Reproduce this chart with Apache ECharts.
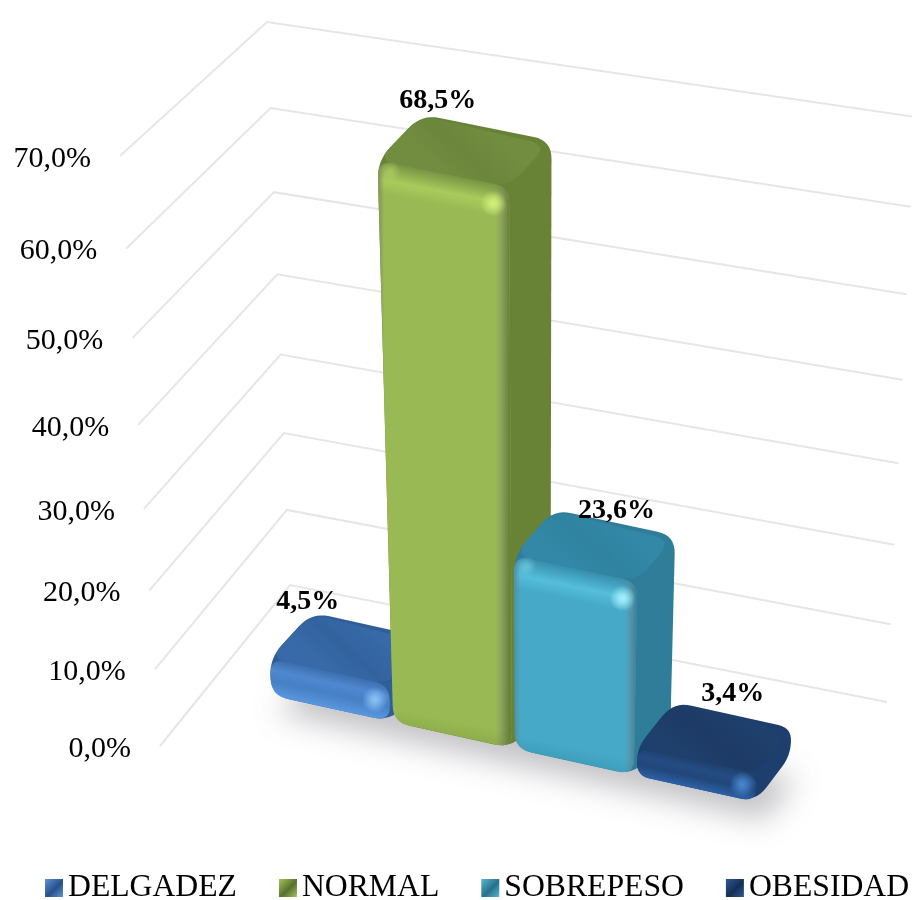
<!DOCTYPE html>
<html>
<head>
<meta charset="utf-8">
<style>html,body{margin:0;padding:0;background:#fff}#chart{width:912px;height:900px}</style>
<script src="https://cdn.jsdelivr.net/npm/echarts@6/dist/echarts.min.js"></script>
</head>
<body>
<div id="chart"></div>
<script>
// Chart data
const categories = ['DELGADEZ', 'NORMAL', 'SOBREPESO', 'OBESIDAD'];
const percentages = [4.5, 68.5, 23.6, 3.4];
const axisTicks = [0, 10, 20, 30, 40, 50, 60, 70];
const axisTickLabels = ['0,0%', '10,0%', '20,0%', '30,0%', '40,0%', '50,0%', '60,0%', '70,0%'];

// Face colours per bar
const palettes = [
  { front: '#4680c5', bright: '#5088cf', top: '#386aa9', topDark: '#33639f', side: '#2f5f99', edge: '#3a6fb0', spot: [140, 196, 250], rim: '#5a97df' },
  { front: '#98b954', bright: '#a9cb5c', top: '#728d40', topDark: '#6c873b', side: '#688236', edge: '#7c9a42', spot: [212, 240, 124], rim: '#8fae4c' },
  { front: '#45a9c7', bright: '#54bedb', top: '#3288a6', topDark: '#2f83a1', side: '#2f7d98', edge: '#3a97b5', spot: [168, 242, 255], rim: '#3f9fbc' },
  { front: '#21467a', bright: '#244c84', top: '#1f3f6c', topDark: '#1d3b66', side: '#1d3f6e', edge: '#1f4476', spot: [74, 138, 210], rim: '#2c61a6' }
];

// Offset of each value label from the back-centre of its bar's top
const labelOffsets = [[-63, -24], [-49, -27], [2, -12], [0, -21]];

// Floor layout of the bars; the cartesian grid below supplies the scales
const gridLeft = 270, gridBaseY = 695, pxPerPercent = 8.2, bandWidth = 121.75;
const floorSlope = 0.22, depthY = -46, depthXNear = 42, depthXFalloff = 0.015;
const convergeX = 540, convergeK = 1.9e-4;
const barInset = 0.012;

// Corners of the back wall and the side wall: [bottom near, bottom far, top far, top near]
const backWall = [[290, 585], [887, 702], [915, 117], [267, 22]];
const sideWall = [[290, 585], [160, 746], [120, 156], [267, 22]];

function squareToQuad(q) {
  const [[x0, y0], [x1, y1], [x2, y2], [x3, y3]] = q;
  const dx1 = x1 - x2, dx2 = x3 - x2, sx = x0 - x1 + x2 - x3;
  const dy1 = y1 - y2, dy2 = y3 - y2, sy = y0 - y1 + y2 - y3;
  const det = dx1 * dy2 - dx2 * dy1;
  const g = (sx * dy2 - dx2 * sy) / det, h = (dx1 * sy - sx * dy1) / det;
  const a = x1 - x0 + g * x1, b = x3 - x0 + h * x3;
  const d = y1 - y0 + g * y1, e = y3 - y0 + h * y3;
  return (u, v) => {
    const k = g * u + h * v + 1;
    return [(a * u + b * v + x0) / k, (d * u + e * v + y0) / k];
  };
}
const backWallAt = squareToQuad(backWall);
const sideWallAt = squareToQuad(sideWall);

// Oblique view of a grid pixel (px, py) pushed back by depth w
function view(px, py, w) {
  const lift = gridBaseY - py;
  const fx = px + w * (depthXNear - (px - gridLeft) * depthXFalloff);
  const fy = gridBaseY + (px - gridLeft) * floorSlope + w * depthY;
  return [fx + (fx - convergeX) * convergeK * lift, fy - lift];
}

function roundPoly(pts, radius) {
  const out = [], n = pts.length;
  for (let i = 0; i < n; i++) {
    const p = pts[i], a = pts[(i + n - 1) % n], b = pts[(i + 1) % n];
    const la = Math.hypot(a[0] - p[0], a[1] - p[1]), lb = Math.hypot(b[0] - p[0], b[1] - p[1]);
    const r = Math.min(radius, la * 0.48, lb * 0.48);
    const s = [p[0] + (a[0] - p[0]) * r / la, p[1] + (a[1] - p[1]) * r / la];
    const e = [p[0] + (b[0] - p[0]) * r / lb, p[1] + (b[1] - p[1]) * r / lb];
    for (let t = 0; t <= 1.001; t += 0.125) {
      const m = 1 - t;
      out.push([m * m * s[0] + 2 * m * t * p[0] + t * t * e[0], m * m * s[1] + 2 * m * t * p[1] + t * t * e[1]]);
    }
  }
  return out;
}

const linear = (a, b, stops) => new echarts.graphic.LinearGradient(a[0], a[1], b[0], b[1],
  stops.map(s => ({ offset: s[0], color: s[1] })), true);
const poly = (points, fill) => ({ type: 'polygon', silent: true, shape: { points }, style: { fill } });
const lerp = (a, b, t) => [a[0] + (b[0] - a[0]) * t, a[1] + (b[1] - a[1]) * t];

function spot(c, r, rgb, alpha) {
  const col = a => `rgba(${rgb[0]},${rgb[1]},${rgb[2]},${a})`;
  return {
    type: 'circle', silent: true, shape: { cx: c[0], cy: c[1], r },
    style: {
      fill: new echarts.graphic.RadialGradient(c[0], c[1], r, [
        { offset: 0, color: col(alpha) }, { offset: 0.3, color: col(alpha * 0.8) }, { offset: 1, color: col(0) }
      ], true)
    }
  };
}

function drawBar(params, api) {
  const i = api.value(0), value = api.value(1);
  const pal = palettes[i];
  const band = api.size([1, 0])[0];
  const center = api.coord([i, value]);
  const base = api.coord([i, 0]);
  const x0 = center[0] - band * (0.5 - barInset), x1 = center[0] + band * (0.5 - barInset);
  const top = center[1], floor = base[1];

  const fLb = view(x0, floor, 0), fRb = view(x1, floor, 0), bRb = view(x1, floor, 1);
  const fLt = view(x0, top, 0), fRt = view(x1, top, 0), bRt = view(x1, top, 1), bLt = view(x0, top, 1);
  const frontH = fLb[1] - fLt[1];

  const children = [];
  // outer body, which also shows as the shaded side
  children.push(poly(roundPoly([fLb, fRb, bRb, bRt, bLt, fLt], 18), pal.side));
  // lid, darker towards the back
  const topMid = lerp(fLt, fRt, 0.5), backMid = lerp(bLt, bRt, 0.5);
  children.push(poly(roundPoly([fLt, fRt, lerp(bRt, fRt, 0.1), lerp(bLt, fLt, 0.03)], 18),
    linear(backMid, topMid, [[0, pal.top], [0.55, pal.topDark], [1, pal.top]])));

  // front face: the shading runs square to its upper edge, with a bright bevel below the lid
  const ex = fRt[0] - fLt[0], ey = fRt[1] - fLt[1], el = Math.hypot(ex, ey);
  const nx = -ey / el, ny = ex / el;
  const botMid = lerp(fLb, fRb, 0.5);
  const depth = (botMid[0] - topMid[0]) * nx + (botMid[1] - topMid[1]) * ny;
  const up = [topMid[0] - nx * 14, topMid[1] - ny * 14];
  const down = [topMid[0] + nx * depth, topMid[1] + ny * depth];
  const len = depth + 14;
  const bevel = Math.min(30, frontH * 0.5);
  const f = d => Math.min(0.97, d / len);
  const rimStart = Math.max(f(bevel + 16) + 0.001, 1 - 14 / len);
  children.push(poly(roundPoly([fLb, fRb, fRt, fLt], 16), linear(up, down, [
    [0, pal.top], [f(12), pal.top], [f(bevel * 0.6 + 14), pal.bright], [f(bevel + 16), pal.front],
    [rimStart, pal.front], [1, pal.rim]
  ])));
  // darkened vertical edges of the front face on the taller bars
  if (frontH > 100) {
    const midY = (fLt[1] + fLb[1]) / 2;
    children.push(poly(roundPoly([fLb, fRb, fRt, fLt], 16), linear([fLt[0], midY], [fRt[0], midY], [
      [0, pal.edge], [0.05, 'rgba(128,128,128,0)'], [0.9, 'rgba(128,128,128,0)'], [1, pal.side]
    ])));
  }
  // glints on the bevel corners
  const spotY = Math.min(20, frontH * 0.5);
  const rightGlint = lerp(fLt, fRt, 0.88);
  children.push(spot([rightGlint[0], rightGlint[1] + spotY], 13, pal.spot, 0.95));
  if (frontH > 150) {
    const leftGlint = lerp(fLt, fRt, 0.1);
    children.push(spot([leftGlint[0], leftGlint[1] + spotY * 0.4], 10, pal.spot, 0.35));
  }
  // value label above the bar
  const anchor = lerp(bLt, bRt, 0.5), off = labelOffsets[i];
  children.push({
    type: 'text', silent: true, x: anchor[0] + off[0], y: anchor[1] + off[1],
    style: {
      text: value.toFixed(1).replace('.', ',') + '%',
      font: 'bold 28px "Liberation Serif"', fill: '#000', align: 'center', verticalAlign: 'middle'
    }
  });
  return { type: 'group', children };
}

function drawWallTick(params, api) {
  const i = params.dataIndex, v = api.value(1);
  const t = (api.coord([0, 0])[1] - api.coord([0, v])[1]) / (api.coord([0, 0])[1] - api.coord([0, 70])[1]);
  const left = sideWallAt(1, t), corner = backWallAt(0, t), right = backWallAt(1, t);
  return {
    type: 'group', children: [
      {
        type: 'polyline', silent: true, shape: { points: [left, corner, right] },
        style: { stroke: '#e6e6e6', lineWidth: 2, fill: null }
      },
      {
        type: 'text', silent: true, x: left[0] - 29, y: left[1] + 3,
        style: {
          text: axisTickLabels[i], font: '30px "Liberation Serif"', fill: '#000',
          align: 'right', verticalAlign: 'middle'
        }
      }
    ]
  };
}

// Soft shadow cast on the floor: the shape sits off-canvas and only its blur lands here
function drawFloorShadow(params, api) {
  const n = categories.length;
  const l = api.coord([0, 0])[0] - api.size([1, 0])[0] / 2;
  const r = api.coord([n - 1, 0])[0] + api.size([1, 0])[0] / 2;
  const y = api.coord([0, 0])[1];
  const pts = [view(l, y, 0.05), view(r, y, 0.05), view(r, y, 0.95), view(l, y, 0.95)]
    .map(p => [p[0] - 2000 + 6, p[1] + 20]);
  return {
    type: 'polygon', silent: true, shape: { points: pts },
    style: { fill: '#000', shadowBlur: 30, shadowColor: 'rgba(110,110,120,0.42)', shadowOffsetX: 2000 }
  };
}

const legendColors = [
  ['#5e94d4', '#27508a'], ['#a3c45c', '#57702e'], ['#55b8d4', '#27708a'], ['#2c5a94', '#152f55']
];

const series = [
  {
    name: 'walls', type: 'custom', coordinateSystem: 'cartesian2d', z: 1,
    data: axisTicks.map(t => [0, t]), renderItem: drawWallTick
  },
  {
    name: 'shadow', type: 'custom', coordinateSystem: 'cartesian2d', z: 2,
    data: [[0, 0]], renderItem: drawFloorShadow
  }
].concat(categories.map((name, i) => ({
  name, type: 'custom', coordinateSystem: 'cartesian2d', z: 3 + i,
  data: [[i, percentages[i]]], renderItem: drawBar,
  itemStyle: { color: legendColors[i][0] }
})));

const chart = echarts.init(document.getElementById('chart'));
chart.setOption({
  animation: false,
  backgroundColor: '#fff',
  grid: {
    left: gridLeft, width: bandWidth * categories.length,
    top: gridBaseY - 70 * pxPerPercent, height: 70 * pxPerPercent
  },
  xAxis: { type: 'category', data: categories, show: false },
  yAxis: { type: 'value', min: 0, max: 70, interval: 10, show: false },
  legend: {
    left: 45, top: 872, padding: 0, itemWidth: 18, itemHeight: 18, itemGap: 42, selectedMode: false,
    textStyle: { fontFamily: 'Liberation Serif', fontSize: 31.7, color: '#000' },
    data: categories.map((name, i) => ({
      name, icon: 'rect',
      itemStyle: {
        color: new echarts.graphic.LinearGradient(0, 0, 1, 1, [
          { offset: 0, color: legendColors[i][0] }, { offset: 0.55, color: legendColors[i][1] },
          { offset: 1, color: legendColors[i][0] }
        ])
      }
    }))
  },
  series
});
</script>
</body>
</html>
